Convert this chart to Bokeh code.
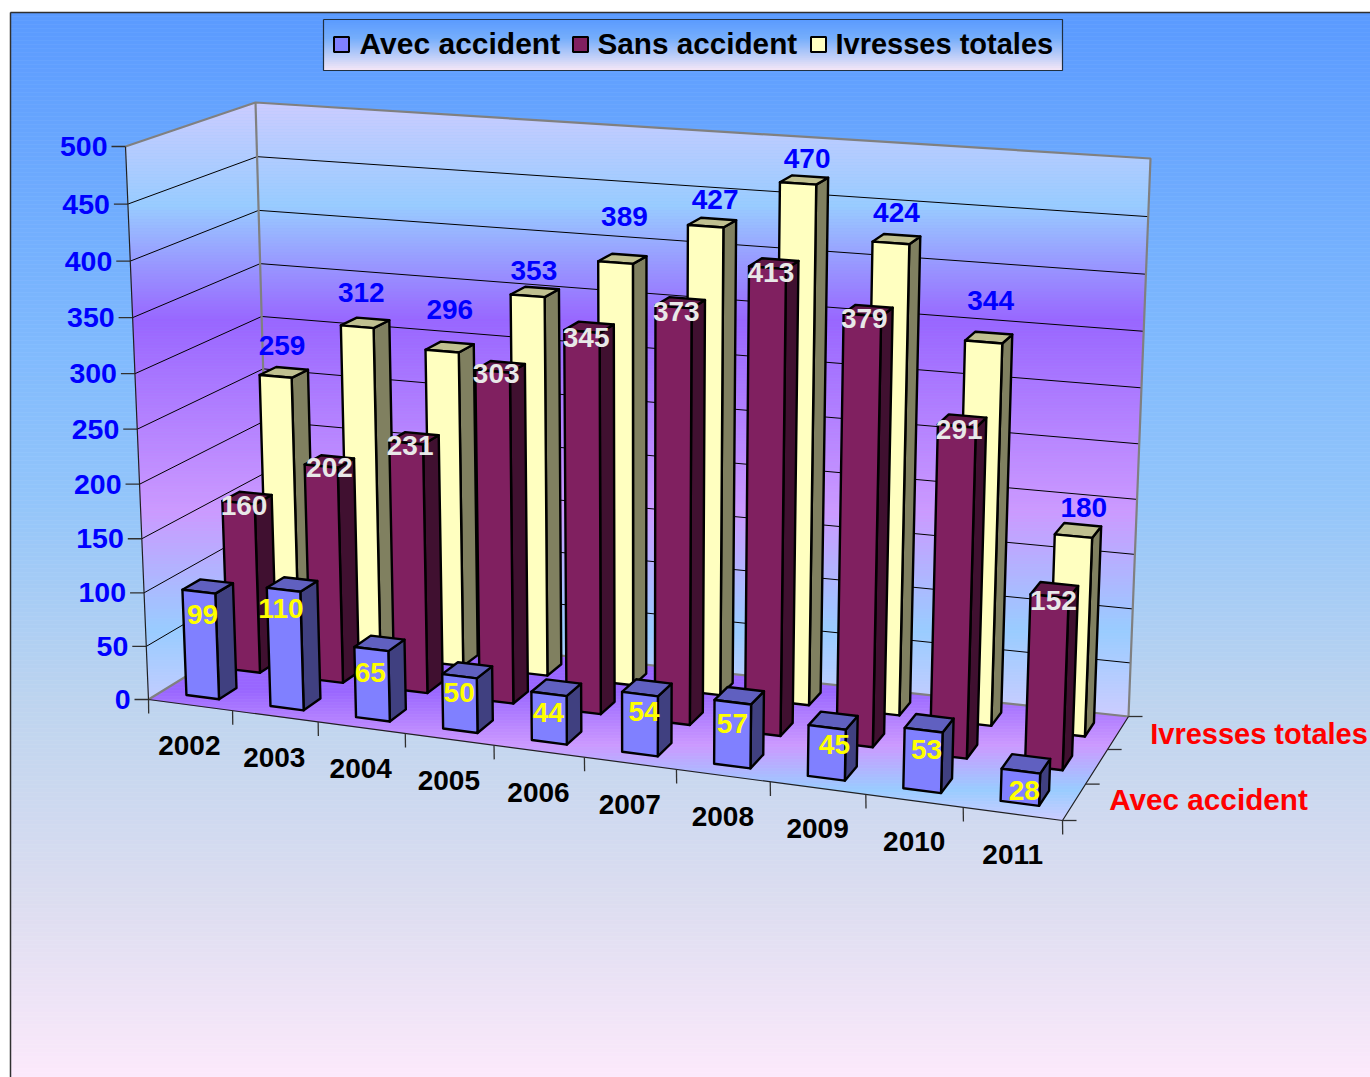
import numpy as np
from bokeh.plotting import figure
from bokeh.models import Range1d
from bokeh.embed import file_html
from bokeh.resources import INLINE
from bokeh.core.properties import value as V

years = ["2002","2003","2004","2005","2006","2007","2008","2009","2010","2011"]
avec = [99,110,65,50,44,54,57,45,53,28]
sans = [160,202,231,303,345,373,413,379,291,152]
total = [259,312,296,353,389,427,470,424,344,180]
series_names = ["Avec accident","Sans accident","Ivresses totales"]
y_ticks = [0,50,100,150,200,250,300,350,400,450,500]
VMAX = 500.0
FONT = V("Liberation Sans")

# small hand placement of the data labels, as the original has them
nudge_x = [[-2,-8,-6,-5,-5,0,-4,4,0,1],[-1,2,-2,-2,-1,-2,-1,-2,-1,1],[1,-1,3,2,5,6,6,3,5,9]]
nudge_y = [[0,-4,1,-5,-2,-3,2,-2,1,2],[-3,-5,-4,-4,-1,-2,-2,-3,-2,-1],[-4,-8,-15,1,-20,-1,1,-5,-15,-2]]

# ---- perspective camera fitted on the box corners (u, depth, value share) -> page pixel
corners = [((0,0,0),(148,699)),((1,0,0),(1062,820)),((0,1,0),(270,624)),((1,1,0),(1128,716)),
           ((0,0,1),(125,146)),((0,1,1),(255,102)),((1,1,1),(1150,158))]
A=[];b=[]
for (X,Y,Z),(px,py) in corners:
    A.append([X,Y,Z,1,0,0,0,0,-px*X,-px*Y,-px*Z]); b.append(px)
    A.append([0,0,0,0,X,Y,Z,1,-py*X,-py*Y,-py*Z]); b.append(py)
P = np.append(np.linalg.lstsq(np.array(A,float),np.array(b,float),rcond=None)[0],1).reshape(3,4)
def cam(u,d,val):
    q = P@np.array([u,d,val/VMAX,1.0])
    return np.array([q[0]/q[2], q[1]/q[2]])
# the camera misses the corners by a few pixels: spread that residual through the box
resid = {c: np.array(px,float)-cam(c[0],c[1],c[2]*VMAX) for c,px in corners}
def proj(u,d,val):
    t=val/VMAX
    r=cam(u,d,val)
    for (X,Y,Z),e in resid.items():
        r=r+e*(u if X else 1-u)*(d if Y else 1-d)*(t if Z else 1-t)
    return float(r[0]),float(r[1])

p = figure(width=1370,height=1077,x_range=Range1d(0,1370),y_range=Range1d(1077,0),
           output_backend="svg",toolbar_location=None,min_border=0,outline_line_color=None,
           background_fill_color="white",border_fill_color="white")
p.xaxis.visible=False; p.yaxis.visible=False; p.grid.visible=False

def hex2(c): return np.array([int(c[i:i+2],16) for i in (1,3,5)],float)
def ramp(stops,y):
    ys=[s[0] for s in stops]; cs=np.array([hex2(s[1]) for s in stops])
    c=[np.interp(y,ys,cs[:,k]) for k in range(3)]
    return "#%02x%02x%02x"%tuple(int(round(x)) for x in c)

def clip(poly,y0,y1):
    def half(pts,keep,cut):
        out=[]
        for i in range(len(pts)):
            a,b=pts[i],pts[(i+1)%len(pts)]
            ka,kb=keep(a),keep(b)
            if ka: out.append(a)
            if ka!=kb:
                t=(cut-a[1])/(b[1]-a[1]); out.append((a[0]+t*(b[0]-a[0]),cut))
        return out
    pts=half(poly,lambda q:q[1]>=y0,y0)
    if pts: pts=half(pts,lambda q:q[1]<=y1,y1)
    return pts

def gradient_poly(poly,stops,step=3):
    ymin=min(q[1] for q in poly); ymax=max(q[1] for q in poly)
    xs=[];ys=[];cols=[]
    y=ymin
    while y<ymax:
        c=clip(poly,y,y+step)
        if len(c)>=3:
            xs.append([q[0] for q in c]); ys.append([q[1] for q in c]); cols.append(ramp(stops,y+step/2))
        y+=step
    p.patches(xs,ys,fill_color=cols,line_color=cols,line_width=0.6)

# ---- chart area
bg=[(12,"#5a9aff"),(350,"#80bafd"),(500,"#93c5fa"),(700,"#bdd4ef"),(900,"#dcddf0"),(1077,"#fce9fb")]
gradient_poly([(10,12),(1370,12),(1370,1077),(10,1077)],bg,step=4)
p.line([10,10],[1077,12],line_color="#303030",line_width=1.5)
p.line([10,1370],[12,12],line_color="#303030",line_width=1.5)

# ---- legend box
lg=[(19,"#5a9aff"),(38,"#76aefb"),(70,"#f8e8f6")]
gradient_poly([(323,19),(1062,19),(1062,70),(323,70)],lg,step=2)
p.line([323,1062,1062,323,323],[19,19,70,70,19],line_color="#203040",line_width=1.2)

# ---- walls and floor
wall=[(102,"#ccccff"),(205,"#99ccff"),(320,"#9966ff"),(510,"#cc99ff"),(630,"#99ccff"),(716,"#ccccff")]
floor=[(690,"#9966ff"),(745,"#cc99ff"),(790,"#99ccff"),(820,"#ccccff")]
gradient_poly([proj(0,0,VMAX),proj(0,1,VMAX),proj(0,1,0),proj(0,0,0)],wall)
gradient_poly([proj(0,1,VMAX),proj(1,1,VMAX),proj(1,1,0),proj(0,1,0)],wall)
gradient_poly([proj(0,1,0),proj(1,1,0),proj(1,0,0),proj(0,0,0)],floor)

def seg(pts,color,w):
    p.line([q[0] for q in pts],[q[1] for q in pts],line_color=color,line_width=w)

for t in y_ticks:
    a,b,c=proj(0,0,t),proj(0,1,t),proj(1,1,t)
    if 0<t<VMAX:
        seg([a,b,c],"#000000",1)
    seg([(a[0]-14,a[1]),a],"#303030",1.3)
grey="#808080"
seg([proj(0,0,VMAX),proj(0,1,VMAX),proj(1,1,VMAX),proj(1,1,0)],grey,2.2)
seg([proj(0,1,VMAX),proj(0,1,0)],grey,2.2)
seg([proj(0,0,0),proj(0,1,0),proj(1,1,0)],grey,2.2)
seg([proj(0,0,VMAX),proj(0,0,0),proj(1,0,0),proj(1,1,0)],"#202020",1.2)
for k in range(len(years)+1):
    a=proj(k/len(years),0,0); seg([a,(a[0]+0.2,a[1]+14)],"#303030",1.3)
for k in range(4):
    a=proj(1,k/3,0); seg([a,(a[0]+14,a[1])],"#303030",1.3)

# ---- bars
colors=[("#8080ff","#404080","#6060c0"),("#802060","#401030","#601848"),("#ffffc0","#808060","#c0c090")]
BW=0.39/len(years); BD=0.42/3
data=[avec,sans,total]
for s in (2,1,0):
    dc=(s+0.5)/3
    for i,val in enumerate(data[s]):
        uc=(i+0.5)/len(years)
        u0,u1=uc-BW/2,uc+BW/2; d0,d1=dc-BD/2,dc+BD/2
        front=[proj(u0,d0,0),proj(u1,d0,0),proj(u1,d0,val),proj(u0,d0,val)]
        side=[proj(u1,d0,0),proj(u1,d1,0),proj(u1,d1,val),proj(u1,d0,val)]
        top=[proj(u0,d0,val),proj(u1,d0,val),proj(u1,d1,val),proj(u0,d1,val)]
        for face,c in ((side,colors[s][1]),(top,colors[s][2]),(front,colors[s][0])):
            p.patch([q[0] for q in face],[q[1] for q in face],fill_color=c,line_color="#000000",line_width=2.4,line_join="round")

# ---- texts
def txt(x,y,s,color,size=28,align="center"):
    p.text([x],[y],text=[s],text_color=color,text_font=FONT,text_font_style="bold",
           text_font_size=f"{size}px",text_align=align,text_baseline="middle")

off=[(-3,27),(-2,11),(-3,-22)]
lab=["#ffff00","#e8e8e8","#0000ff"]
for s in range(3):
    dc=(s+0.5)/3
    for i,val in enumerate(data[s]):
        x,y=cam((i+0.5)/len(years),dc,val)
        txt(x+off[s][0]+nudge_x[s][i],y+off[s][1]+nudge_y[s][i],str(val),lab[s])

for t in y_ticks:
    a=proj(0,0,t); txt(a[0]-18,a[1],str(t),"#0000ff",28.5,align="right")
for i,yr in enumerate(years):
    uc=(i+0.5)/len(years)
    a=cam(uc,0,0); txt(a[0]-0.5,a[1]+38+6*uc,yr,"#000000")
a=proj(1,5/6,0); txt(a[0]+32,a[1]+1,series_names[2],"#ff0000",29,"left")
a=proj(1,1/6,0); txt(a[0]+35,a[1]-3,series_names[0],"#ff0000",29.7,"left")

# ---- legend entries
for nm,c,xm,xt,fs in zip(series_names,[x[0] for x in colors],(341,580,818),(359,597,835),(30,29.7,29)):
    p.rect([xm],[44],width=15,height=15,fill_color=c,line_color="#000000",line_width=2)
    txt(xt,43,nm,"#000000",fs,"left")

open("out.html","w").write(file_html(p,INLINE))
